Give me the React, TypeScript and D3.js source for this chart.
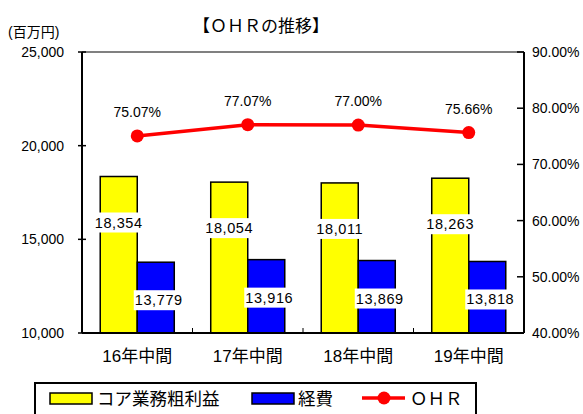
import { line, scaleBand, scaleLinear } from "d3";

const categories = ["16年中間", "17年中間", "18年中間", "19年中間"];
const coreProfit = [18354, 18054, 18011, 18263];
const expenses = [13779, 13916, 13869, 13818];
const ohr = [75.07, 77.07, 77.0, 75.66];
const leftTicks = [10000, 15000, 20000, 25000];
const rightTicks = [40, 50, 60, 70, 80, 90];

const W = 583;
const H = 414;
const plot = { left: 82, right: 524, top: 52, bottom: 333 };
const FONT = "'Liberation Sans', 'Noto Sans CJK JP', sans-serif";

const fmt = (v: number) => v.toLocaleString("en-US");

export default function App() {
  const x = scaleBand<string>()
    .domain(categories)
    .range([plot.left, plot.right]);
  const yL = scaleLinear().domain([10000, 25000]).range([plot.bottom, plot.top]);
  const yR = scaleLinear().domain([40, 90]).range([plot.bottom, plot.top]);

  const barW = x.bandwidth() * 0.335;
  const yellowX = (i: number) => x(categories[i])! + x.bandwidth() / 2 - barW;
  const blueX = (i: number) => x(categories[i])! + x.bandwidth() / 2;
  const cx = (i: number) => x(categories[i])! + x.bandwidth() / 2;

  const ohrPath = line<number>()
    .x((_, i) => cx(i))
    .y((d) => yR(d))(ohr);

  const labelBox = (lx: number, ly: number, text: string, key: string) => (
    <g key={key}>
      <rect x={lx - 25} y={ly - 10} width={50} height={20} fill="#fff" />
      <text x={lx} y={ly} textAnchor="middle" dominantBaseline="central" fontSize={14.5} letterSpacing={0.6}>
        {text}
      </text>
    </g>
  );

  return (
    <svg
      width={W}
      height={H}
      style={{ position: "absolute", left: 0, top: 0, background: "#fff" }}
      fontFamily={FONT}
      fill="#000"
    >
      {/* title */}
      <text x={261} y={26} textAnchor="middle" fontSize={17} dominantBaseline="central">
        【ＯＨＲの推移】
      </text>
      <text x={8} y={32} fontSize={14} dominantBaseline="central">
        (百万円)
      </text>

      {/* bars */}
      {coreProfit.map((v, i) => (
        <rect
          key={"y" + i}
          x={yellowX(i)}
          y={yL(v)}
          width={barW}
          height={plot.bottom - yL(v)}
          fill="#FFFF00"
          stroke="#000"
          strokeWidth={1.5}
        />
      ))}
      {expenses.map((v, i) => (
        <rect
          key={"b" + i}
          x={blueX(i)}
          y={yL(v)}
          width={barW}
          height={plot.bottom - yL(v)}
          fill="#0000FF"
          stroke="#000"
          strokeWidth={1.5}
        />
      ))}

      {/* bar labels */}
      {coreProfit.map((v, i) => labelBox(yellowX(i) + barW / 2, yL(v) + 46, fmt(v), "ly" + i))}
      {expenses.map((v, i) => labelBox(blueX(i) + barW / 2 + 3, yL(v) + 38, fmt(v), "lb" + i))}

      {/* frame */}
      <line x1={plot.left} x2={plot.right} y1={plot.top} y2={plot.top} stroke="#808080" strokeWidth={2} />
      <line x1={plot.left} x2={plot.left} y1={plot.top} y2={plot.bottom} stroke="#000" strokeWidth={2} />
      <line x1={plot.right} x2={plot.right} y1={plot.top} y2={plot.bottom} stroke="#000" strokeWidth={2} />
      <line x1={plot.left} x2={plot.right} y1={plot.bottom} y2={plot.bottom} stroke="#000" strokeWidth={2} />

      {/* left axis */}
      {leftTicks.map((t) => (
        <g key={"lt" + t}>
          <line x1={plot.left - 4} x2={plot.left + 4} y1={yL(t)} y2={yL(t)} stroke="#000" strokeWidth={1.5} />
          <text x={64} y={yL(t)} textAnchor="end" dominantBaseline="central" fontSize={14}>
            {fmt(t)}
          </text>
        </g>
      ))}

      {/* right axis */}
      {rightTicks.map((t) => (
        <g key={"rt" + t}>
          <line x1={plot.right - 7} x2={plot.right} y1={yR(t)} y2={yR(t)} stroke="#000" strokeWidth={1.5} />
          <text x={532} y={yR(t)} dominantBaseline="central" fontSize={14}>
            {t.toFixed(2) + "%"}
          </text>
        </g>
      ))}

      {/* category separators + labels */}
      {categories.slice(1).map((c) => (
        <line key={"s" + c} x1={x(c)!} x2={x(c)!} y1={plot.bottom} y2={plot.bottom - 5} stroke="#000" strokeWidth={1} />
      ))}
      {categories.map((c) => (
        <text key={"c" + c} x={x(c)! + x.bandwidth() / 2} y={356} textAnchor="middle" dominantBaseline="central" fontSize={17}>
          {c}
        </text>
      ))}

      {/* OHR line */}
      <path d={ohrPath!} fill="none" stroke="#FF0000" strokeWidth={3.5} />
      {ohr.map((v, i) => (
        <g key={"p" + i}>
          <circle cx={cx(i)} cy={yR(v)} r={6.5} fill="#FF0000" />
          <text x={cx(i)} y={yR(v) - 24} textAnchor="middle" dominantBaseline="central" fontSize={14}>
            {v.toFixed(2) + "%"}
          </text>
        </g>
      ))}

      {/* legend */}
      <rect x={35} y={383} width={441} height={40} fill="none" stroke="#000" strokeWidth={2} />
      <rect x={50} y={393} width={42} height={11} fill="#FFFF00" stroke="#000" strokeWidth={1.5} />
      <text x={97} y={399} dominantBaseline="central" fontSize={17.5}>
        コア業務粗利益
      </text>
      <rect x={252} y={393} width={42} height={11} fill="#0000FF" stroke="#000" strokeWidth={1.5} />
      <text x={298} y={399} dominantBaseline="central" fontSize={17.5}>
        経費
      </text>
      <line x1={362} x2={405} y1={398} y2={398} stroke="#FF0000" strokeWidth={3.5} />
      <circle cx={384} cy={398} r={6.5} fill="#FF0000" />
      <text x={410} y={399} dominantBaseline="central" fontSize={17.5}>
        ＯＨＲ
      </text>
    </svg>
  );
}
